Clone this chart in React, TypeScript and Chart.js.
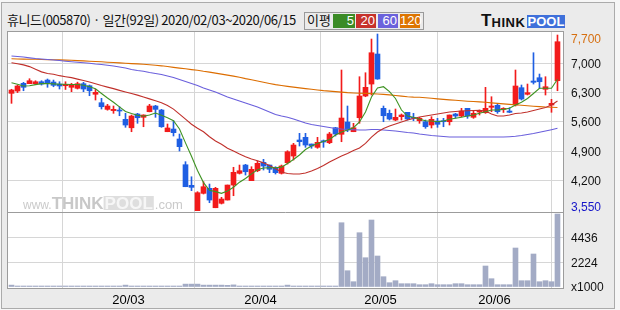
import React, { useEffect, useRef } from 'react';
import { Chart, registerables } from 'chart.js';

Chart.register(...registerables);

// ---------------- data ----------------
const titleText = '휴니드(005870) · 일간(92일) 2020/02/03~2020/06/15';

const openPrices = [
  6283, 6338, 6522, 6513, 6513, 6560, 6600, 6553, 6505, 6465,
  6427, 6403, 6513, 6465, 6260, 6059, 5900, 5870, 5884, 5662,
  5460, 5789, 5710, 5844, 5980, 5884, 5366, 5430, 5192, 4578,
  4085, 3480, 3894, 4014, 3550, 3656, 3734, 4092, 4372, 4570,
  4196, 4434, 4635, 4570, 4506, 4372, 4625, 4785, 5168, 5232,
  5072, 4993, 5150, 5103, 5461, 5304, 5597, 5366, 5700, 6219,
  6505, 7222, 5925, 5805, 5645, 5725, 5829, 5710, 5629, 5605,
  5526, 5622, 5629, 5605, 5789, 5741, 5925, 5710, 5837, 5820,
  5949, 5997, 5900, 5860, 6004, 6418, 6260, 6577, 6656, 6379,
  6004, 6584,
];
const highPrices = [
  6380, 6480, 6546, 6632, 6584, 6584, 6625, 6600, 6560, 6560,
  6522, 6550, 6546, 6482, 6380, 6164, 6020, 5980, 5963, 5805,
  5765, 5805, 5770, 6020, 5997, 5900, 5550, 5630, 5311, 4650,
  4290, 3933, 4172, 4116, 4037, 3799, 4092, 4516, 4570, 4587,
  4530, 4666, 4707, 4570, 4530, 4570, 4912, 5089, 5328, 5328,
  5072, 5232, 5168, 5350, 5471, 6840, 5980, 5567, 6680, 6775,
  7580, 7700, 5980, 5884, 5908, 5789, 5829, 5805, 5710, 5645,
  5725, 5686, 5686, 5765, 5805, 5925, 5925, 5860, 5884, 6427,
  6202, 6020, 5940, 5940, 6840, 6482, 6505, 7253, 6744, 6680,
  6140, 7676,
];
const lowPrices = [
  6044, 6300, 6345, 6513, 6490, 6480, 6427, 6440, 6386, 6375,
  6322, 6386, 6322, 6226, 6123, 5908, 5880, 5805, 5748, 5471,
  5366, 5567, 5485, 5840, 5710, 5471, 5366, 5263, 4905, 4052,
  3957, 3480, 3878, 3670, 3550, 3639, 3734, 3837, 4355, 4331,
  4196, 4410, 4451, 4387, 4355, 4355, 4594, 4690, 5024, 4993,
  4970, 4970, 4993, 5080, 5263, 5127, 5366, 5366, 5567, 6202,
  6243, 6618, 5605, 5645, 5629, 5645, 5645, 5629, 5567, 5447,
  5455, 5471, 5485, 5526, 5693, 5725, 5686, 5686, 5765, 5805,
  5844, 5805, 5825, 5820, 5980, 6123, 6243, 6505, 6403, 6243,
  5830, 6345,
];
const closePrices = [
  6362, 6458, 6427, 6584, 6560, 6505, 6530, 6474, 6458, 6498,
  6498, 6513, 6386, 6345, 6307, 5963, 5980, 5900, 5860, 5526,
  5741, 5700, 5765, 5980, 5900, 5485, 5455, 5343, 5008, 4052,
  4037, 3909, 4052, 3734, 4014, 3758, 4092, 4396, 4434, 4410,
  4468, 4611, 4546, 4468, 4387, 4547, 4888, 5048, 5128, 5048,
  5024, 5113, 5120, 5311, 5311, 5693, 5407, 5461, 6219, 6427,
  7253, 6625, 5748, 5669, 5710, 5765, 5669, 5686, 5686, 5485,
  5662, 5543, 5605, 5765, 5741, 5860, 5741, 5805, 5868, 5925,
  5980, 5844, 5916, 5830, 6458, 6147, 6298, 6546, 6560, 6441,
  6044, 7516,
];
// volume in thousands of shares
const volumes = [
  170, 90, 90, 90, 90, 90, 90, 90, 90, 90,
  90, 90, 90, 90, 90, 90, 90, 90, 90, 170,
  90, 90, 90, 90, 90, 90, 90, 90, 90, 260,
  260, 260, 170, 170, 170, 170, 150, 190, 90, 90,
  90, 90, 90, 90, 90, 90, 170, 90, 90, 90,
  90, 90, 90, 90, 90, 5780, 1465, 476, 4882, 2634,
  6023, 2787, 926, 387, 566, 297, 297, 297, 207, 207,
  297, 207, 207, 207, 297, 297, 207, 207, 207, 1888,
  746, 207, 207, 207, 3506, 566, 566, 2967, 476, 566,
  476, 6563,
];
const ma5 = [
  6537, 6498, 6458, 6465, 6490, 6515, 6518, 6510, 6500, 6500,
  6495, 6495, 6475, 6440, 6390, 6280, 6170, 6070, 5960, 5848,
  5800, 5760, 5735, 5765, 5812, 5760, 5700, 5630, 5430, 5100,
  4780, 4440, 4150, 3965, 3935, 3894, 3950, 4040, 4160, 4250,
  4360, 4455, 4500, 4505, 4505, 4520, 4606, 4702, 4809, 4940,
  5024, 5084, 5132, 5180, 5287, 5359, 5407, 5462, 5598, 5837,
  6195, 6410, 6441, 6322, 6160, 5884, 5741, 5710, 5662, 5629,
  5622, 5605, 5622, 5662, 5686, 5710, 5741, 5765, 5805, 5844,
  5884, 5884, 5900, 5925, 6004, 6070, 6160, 6280, 6403, 6403,
  6403, 6618,
];
const ma20 = [
  7013, 6990, 6963, 6921, 6857, 6796, 6758, 6737, 6705, 6680,
  6658, 6622, 6588, 6555, 6512, 6468, 6432, 6395, 6354, 6316,
  6278, 6240, 6195, 6150, 6107, 6059, 5990, 5905, 5785, 5665,
  5545, 5450, 5366, 5247, 5144, 5065, 4970, 4905, 4833, 4769,
  4714, 4673, 4622, 4560, 4480, 4405, 4367, 4355, 4355, 4379,
  4427, 4487, 4558, 4642, 4714, 4785, 4845, 4917, 4977, 5089,
  5239, 5359, 5442, 5502, 5550, 5598, 5645, 5681, 5717, 5741,
  5765, 5789, 5813, 5837, 5849, 5860, 5868, 5872, 5877, 5860,
  5789, 5741, 5741, 5765, 5801, 5813, 5837, 5872, 5908, 5944,
  6004, 6099,
];
const ma60 = [
  7174, 7162, 7150, 7131, 7115, 7103, 7091, 7079, 7067, 7050,
  7036, 7024, 7012, 7000, 6983, 6971, 6952, 6935, 6912, 6888,
  6852, 6828, 6809, 6780, 6756, 6732, 6697, 6661, 6613, 6565,
  6517, 6470, 6410, 6362, 6314, 6255, 6195, 6147, 6099, 6052,
  6004, 5956, 5896, 5837, 5777, 5741, 5710, 5669, 5622, 5574,
  5538, 5514, 5490, 5466, 5442, 5430, 5423, 5414, 5407, 5407,
  5419, 5419, 5407, 5395, 5383, 5366, 5347, 5335, 5311, 5295,
  5275, 5263, 5251, 5239, 5239, 5239, 5239, 5239, 5239, 5239,
  5239, 5239, 5239, 5247, 5256, 5275, 5299, 5323, 5352, 5383,
  5414, 5447,
];
const ma120 = [
  7108, 7103, 7100, 7096, 7096, 7091, 7089, 7084, 7081, 7077,
  7072, 7065, 7058, 7050, 7043, 7036, 7026, 7019, 7010, 7000,
  6993, 6986, 6976, 6964, 6952, 6940, 6924, 6904, 6885, 6869,
  6850, 6833, 6809, 6790, 6766, 6742, 6718, 6694, 6666, 6634,
  6606, 6577, 6546, 6517, 6491, 6470, 6450, 6431, 6414, 6395,
  6379, 6364, 6347, 6335, 6323, 6311, 6299, 6292, 6285, 6281,
  6276, 6266, 6257, 6245, 6231, 6216, 6202, 6193, 6188, 6176,
  6164, 6150, 6138, 6126, 6116, 6104, 6095, 6087, 6080, 6071,
  6056, 6042, 6030, 6020, 6011, 5997, 5985, 5975, 5966, 5956,
  5951, 5946,
];

const monthStartIndex = [20, 42, 62, 81];
const monthLabels = ['20/03', '20/04', '20/05', '20/06'];
const priceGridTicks = [7000, 6300, 5600, 4900, 4200];
const priceHigh = 7700;
const priceLow = 3550;
const volumeGridTicks = [2224, 4436];
const volumeUnitLabel = 'x1000';
const maPeriods = ['5', '20', '60', '120'];
const maColors = ['#3f9323', '#c0302b', '#6a5fdc', '#dc6d00'];
const legendBoxColors = ['#3b8b26', '#c6322b', '#6b62dc', '#dd7400'];

// ---------------- styles ----------------
const UP = '#f21b1b';
const DOWN = '#1f5fe3';
const VOL = '#a3abc5';
const GRID = '#d6d6d6';
const FRAME = '#9c9c9c';
const AXIS_FONT = 'Liberation Sans';

const fmt = (v: number) => v.toLocaleString('en-US');

const framePlugin = {
  id: 'frameDeco',
  beforeDraw(chart: any) {
    const { ctx, chartArea: a } = chart;
    ctx.save();
    ctx.fillStyle = '#ffffff';
    ctx.fillRect(a.left, a.top, a.right - a.left, a.bottom - a.top);
    ctx.restore();
  },
  beforeDatasetsDraw(chart: any) {
    const { ctx } = chart;
    const py = chart.scales.y;
    const x0 = chart.chartArea.left + 16;
    const base = py.bottom - 3;
    ctx.save();
    ctx.textBaseline = 'alphabetic';
    ctx.fillStyle = '#cacaca';
    ctx.font = `12px ${AXIS_FONT}`;
    ctx.fillText('www.', x0, base);
    let x = x0 + ctx.measureText('www.').width;
    ctx.font = `bold 17px ${AXIS_FONT}`;
    ctx.fillStyle = '#c8c8c8';
    ctx.fillText('THINK', x, base);
    x += ctx.measureText('THINK').width;
    const pw = ctx.measureText('POOL').width;
    ctx.fillStyle = '#dedede';
    ctx.fillRect(x, base - 13, pw + 2, 14);
    ctx.fillStyle = '#f6f6f6';
    ctx.fillText('POOL', x + 1, base);
    x += pw + 3;
    ctx.font = `13px ${AXIS_FONT}`;
    ctx.fillStyle = '#cacaca';
    ctx.fillText('.com', x, base);
    ctx.restore();
  },
  afterDraw(chart: any) {
    const { ctx, chartArea: a } = chart;
    const vy = chart.scales.yv;
    ctx.save();
    ctx.strokeStyle = FRAME;
    ctx.lineWidth = 1;
    ctx.strokeRect(a.left + 0.5, a.top + 0.5, a.right - a.left, a.bottom - a.top);
    ctx.beginPath();
    ctx.moveTo(a.left, Math.round(vy.top) + 0.5);
    ctx.lineTo(a.right + 1, Math.round(vy.top) + 0.5);
    ctx.stroke();
    ctx.restore();
  },
};

export default function App() {
  const canvasRef = useRef<HTMLCanvasElement | null>(null);

  useEffect(() => {
    const canvas = canvasRef.current;
    if (!canvas) return;
    const candleColors = closePrices.map((c, i) => (c >= openPrices[i] ? UP : DOWN));
    const maSeries = [ma5, ma20, ma60, ma120];

    const lineSets = maSeries.map((arr, k) => ({
      type: 'line' as const,
      label: 'MA' + maPeriods[k],
      data: arr.map((v, i) => ({ x: i, y: v })),
      borderColor: maColors[k],
      borderWidth: 1.1,
      pointRadius: 0,
      tension: 0,
      yAxisID: 'y',
      order: 0,
    }));

    const chart = new Chart(canvas, {
      type: 'bar',
      data: {
        datasets: [
          ...lineSets,
          {
            type: 'bar',
            label: 'body',
            data: openPrices.map((o, i) => ({ x: i, y: [o, closePrices[i]] })),
            backgroundColor: candleColors,
            barThickness: 5,
            minBarLength: 1,
            grouped: false,
            borderWidth: 0,
            yAxisID: 'y',
            order: 1,
          } as any,
          {
            type: 'bar',
            label: 'wick',
            data: lowPrices.map((l, i) => ({ x: i, y: [l, highPrices[i]] })),
            backgroundColor: candleColors,
            barThickness: 1,
            grouped: false,
            borderWidth: 0,
            yAxisID: 'y',
            order: 2,
          } as any,
          {
            type: 'bar',
            label: 'volume',
            data: volumes.map((v, i) => ({ x: i, y: v })),
            backgroundColor: VOL,
            barThickness: 5,
            grouped: false,
            borderWidth: 0,
            yAxisID: 'yv',
            order: 3,
          } as any,
        ],
      },
      options: {
        responsive: false,
        devicePixelRatio: 1,
        animation: false,
        events: [],
        layout: { padding: { left: 7, top: 31, right: 0, bottom: 0 } },
        plugins: { legend: { display: false }, tooltip: { enabled: false } },
        scales: {
          x: {
            type: 'linear',
            bounds: 'data',
            min: -0.75,
            max: 91.92,
            offset: false,
            afterBuildTicks: (s: any) => {
              s.ticks = monthStartIndex.map((i) => ({ value: i - 0.5 }));
            },
            afterFit: (s: any) => {
              s.height = 22;
            },
            ticks: {
              callback: (_v: any, idx: number) => monthLabels[idx],
              autoSkip: false,
              maxRotation: 0,
              minRotation: 0,
              padding: 5,
              color: '#000',
              font: { family: AXIS_FONT, size: 13 },
            },
            grid: { color: GRID, drawTicks: false, lineWidth: 1 },
            border: { display: false },
          },
          y: {
            type: 'linear',
            position: 'right',
            stack: 'panes',
            stackWeight: 181,
            min: 3448,
            max: 7772,
            afterBuildTicks: (s: any) => {
              const r = s.max - s.min;
              s.ticks = [
                { value: s.max - r * 0.04 },
                ...priceGridTicks.map((v) => ({ value: v })),
                { value: s.min + r * 0.029 },
              ];
            },
            afterFit: (s: any) => {
              s.width = 57;
            },
            ticks: {
              autoSkip: false,
              padding: 8,
              labelOffset: 1,
              font: { family: AXIS_FONT, size: 12 },
              callback: (v: any, idx: number, ticks: any[]) =>
                idx === 0 ? fmt(priceHigh) : idx === ticks.length - 1 ? fmt(priceLow) : fmt(v),
              color: (c: any) =>
                c.index === 0 ? '#d66f10' : c.index === priceGridTicks.length + 1 ? '#1515c8' : '#111',
            },
            grid: {
              drawTicks: false,
              lineWidth: 1,
              color: (c: any) =>
                c.index === 0 || c.index === priceGridTicks.length + 1 ? 'rgba(0,0,0,0)' : GRID,
            },
            border: { display: false },
          },
          yv: {
            type: 'linear',
            position: 'right',
            stack: 'panes',
            stackWeight: 76,
            min: -90,
            max: 6744,
            afterBuildTicks: (s: any) => {
              s.ticks = [{ value: 0 }, ...volumeGridTicks.map((v) => ({ value: v }))];
            },
            afterFit: (s: any) => {
              s.width = 57;
            },
            ticks: {
              autoSkip: false,
              padding: 8,
              labelOffset: 1,
              font: { family: AXIS_FONT, size: 12 },
              color: '#111',
              callback: (v: any, idx: number) => (idx === 0 ? volumeUnitLabel : String(v)),
            },
            grid: {
              drawTicks: false,
              lineWidth: 1,
              color: (c: any) => (c.index === 0 ? 'rgba(0,0,0,0)' : GRID),
            },
            border: { display: false },
          },
        } as any,
      },
      plugins: [framePlugin],
    });
    return () => chart.destroy();
  }, []);

  const legendLeft = [333, 356, 378, 400];
  const legendWidth = [22, 20, 20, 20];

  return (
    <div
      style={{
        position: 'fixed',
        left: 0,
        top: 0,
        width: 620,
        height: 310,
        background: '#f6f6f6',
        overflow: 'hidden',
        fontFamily: "'Noto Sans CJK KR', sans-serif",
      }}
    >
      <div
        style={{
          position: 'absolute',
          left: 1,
          top: 2,
          width: 612,
          height: 305,
          border: '1px solid #ababab',
          background: '#ebebeb',
        }}
      />
      <div
        style={{
          position: 'absolute',
          left: 7,
          top: 11,
          fontSize: 13,
          lineHeight: '18px',
          color: '#111',
          whiteSpace: 'nowrap',
          letterSpacing: -0.4,
        }}
      >
        {titleText}
      </div>
      <div
        style={{
          position: 'absolute',
          left: 304,
          top: 12,
          width: 118,
          height: 16,
          border: '1px solid #9a9a9a',
          background: '#ebebeb',
        }}
      />
      <div
        style={{
          position: 'absolute',
          left: 307,
          top: 11,
          fontSize: 13,
          lineHeight: '18px',
          color: '#111',
        }}
      >
        이평
      </div>
      {maPeriods.map((p, k) => (
        <div
          key={p}
          style={{
            position: 'absolute',
            left: legendLeft[k],
            top: 14,
            width: legendWidth[k],
            height: 14,
            background: legendBoxColors[k],
            color: '#fff',
            fontFamily: AXIS_FONT,
            fontSize: 13,
            lineHeight: '14px',
            textAlign: 'right',
            paddingRight: 1,
            boxSizing: 'border-box',
          }}
        >
          {p}
        </div>
      ))}
      <div
        style={{
          position: 'absolute',
          left: 481,
          top: 14,
          height: 14,
          display: 'flex',
          alignItems: 'flex-end',
          fontFamily: AXIS_FONT,
          fontWeight: 900,
          whiteSpace: 'nowrap',
        }}
      >
        <span style={{ fontSize: 17, lineHeight: '14px', color: '#111' }}>T</span>
        <span style={{ fontSize: 13, lineHeight: '11px', color: '#111', letterSpacing: 0.6 }}>HINK</span>
        <span
          style={{
            marginLeft: 1,
            background: '#3f70da',
            color: '#fff',
            fontSize: 13,
            lineHeight: '13px',
            padding: '0 1px 0 1px',
          }}
        >
          POOL
        </span>
      </div>
      <canvas
        ref={canvasRef}
        width={620}
        height={310}
        style={{ position: 'absolute', left: 0, top: 0, width: 620, height: 310 }}
      />
    </div>
  );
}
